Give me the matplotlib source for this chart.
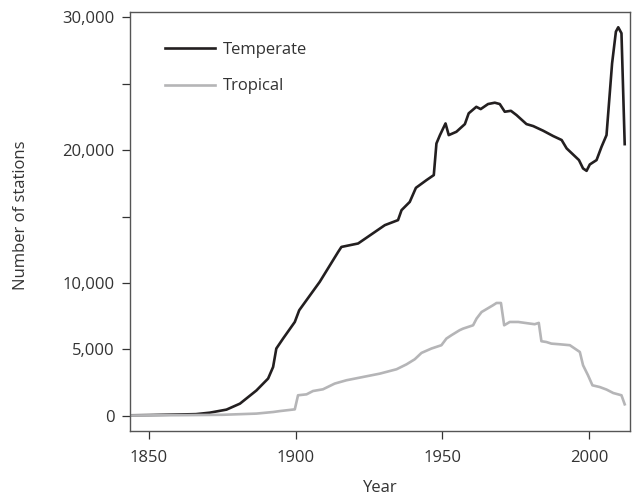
import matplotlib
matplotlib.use("Agg")
import matplotlib.pyplot as plt
from matplotlib.ticker import FuncFormatter

plt.rcParams['font.family'] = ['Open Sans', 'DejaVu Sans']

temperate_years = [1843, 1850, 1860, 1866, 1870.7, 1876.4, 1881, 1886.6, 1890.6, 1892.3, 1893.4,
                   1895.7, 1899.7, 1901.2, 1908.2, 1914.5, 1915.6, 1921.3, 1930.4, 1934.9,
                   1936.1, 1938.9, 1941, 1944.6, 1947.1, 1948, 1949.2, 1951.1, 1952.2, 1954.8,
                   1957.7, 1959, 1961.6, 1963.1, 1965.6, 1967.9, 1969.6, 1971.3, 1973.4,
                   1975.3, 1978.7, 1981, 1984.4, 1987.8, 1990.7, 1992.4, 1996.6, 1998, 1999.2,
                   2000.3, 2002.6, 2004.3, 2006, 2007.9, 2009.2, 2010, 2011.1, 2012.2]
temperate_values = [30, 50, 90, 120, 230, 460, 910, 1900, 2800, 3670, 5060,
                    5810, 7060, 7940, 10080, 12340, 12710, 12970, 14350, 14730,
                    15480, 16100, 17160, 17740, 18120, 20500, 21130, 22010, 21130, 21380,
                    21960, 22770, 23260, 23090, 23470, 23570, 23470, 22890, 22960,
                    22640, 21960, 21810, 21460, 21060, 20760, 20130, 19250, 18620, 18440,
                    18920, 19250, 20250, 21130, 26530, 28920, 29250, 28800, 20450]

tropical_years = [1843, 1860, 1875, 1886.6, 1892.3, 1894.6, 1899.7, 1900.8, 1903.7, 1905.9,
                  1909.3, 1913.3, 1917.3, 1923, 1928.7, 1934.4, 1937.8, 1940.6, 1942.9,
                  1946.3, 1949.7, 1951.4, 1953.1, 1955.9, 1957.1, 1960.5, 1961.7, 1963.4,
                  1967.3, 1968.5, 1970, 1971.1, 1973, 1975.9, 1979.8, 1981.5, 1982.9, 1983.8,
                  1985.5, 1987.2, 1990, 1993.5, 1996.9, 1998, 1999.7, 2001.2, 2003.7, 2006,
                  2008.3, 2011.1, 2012.2]
tropical_values = [20, 40, 70, 160, 280, 350, 480, 1540, 1610, 1860,
                   1990, 2420, 2670, 2920, 3170, 3500, 3870, 4250, 4730,
                   5060, 5310, 5810, 6060, 6440, 6560, 6810, 7320, 7810,
                   8320, 8490, 8490, 6810, 7060, 7060, 6940, 6890, 6990, 5610,
                   5550, 5430, 5380, 5310, 4800, 3800, 3040, 2290, 2160, 1970,
                   1710, 1540, 860]

x_ticks = [1850, 1900, 1950, 2000]
y_major = [0, 5000, 10000, 20000, 30000]
y_minor = [15000, 25000]

fig = plt.figure(figsize=(6.41, 5.0), dpi=100)
ax = fig.add_axes([0.2028, 0.138, 0.7800, 0.838])

ax.plot(temperate_years, temperate_values, color='#231f20', lw=1.9, label='Temperate',
        solid_joinstyle='round')
ax.plot(tropical_years, tropical_values, color='#b5b5b7', lw=1.9, label='Tropical',
        solid_joinstyle='round')

ax.set_xlim(1843.5, 2014)
ax.set_ylim(-1150, 30400)
ax.set_xticks(x_ticks)
ax.set_yticks(y_major)
ax.set_yticks(y_minor, minor=True)
ax.yaxis.set_major_formatter(FuncFormatter(lambda v, p: f"{int(v):,}"))

for s in ax.spines.values():
    s.set_color('#555555')
    s.set_linewidth(1.0)

ax.tick_params(axis='both', which='both', direction='out', length=6, width=0.9,
               color='#333333', labelsize=12, labelcolor='#333333', pad=5)
ax.tick_params(axis='x', pad=7.5)

ax.set_xlabel('Year', fontsize=12, color='#333333')
ax.set_ylabel('Number of stations', fontsize=12, color='#333333')
ax.yaxis.set_label_coords(-0.202, 0.515)
ax.xaxis.set_label_coords(0.5, -0.118)

ax.legend(loc='upper left', bbox_to_anchor=(0.04, 0.965), frameon=False, fontsize=12,
          handlelength=3.0, handletextpad=0.5, labelspacing=1.25, labelcolor='#333333')

fig.savefig('out.png', dpi=100)
